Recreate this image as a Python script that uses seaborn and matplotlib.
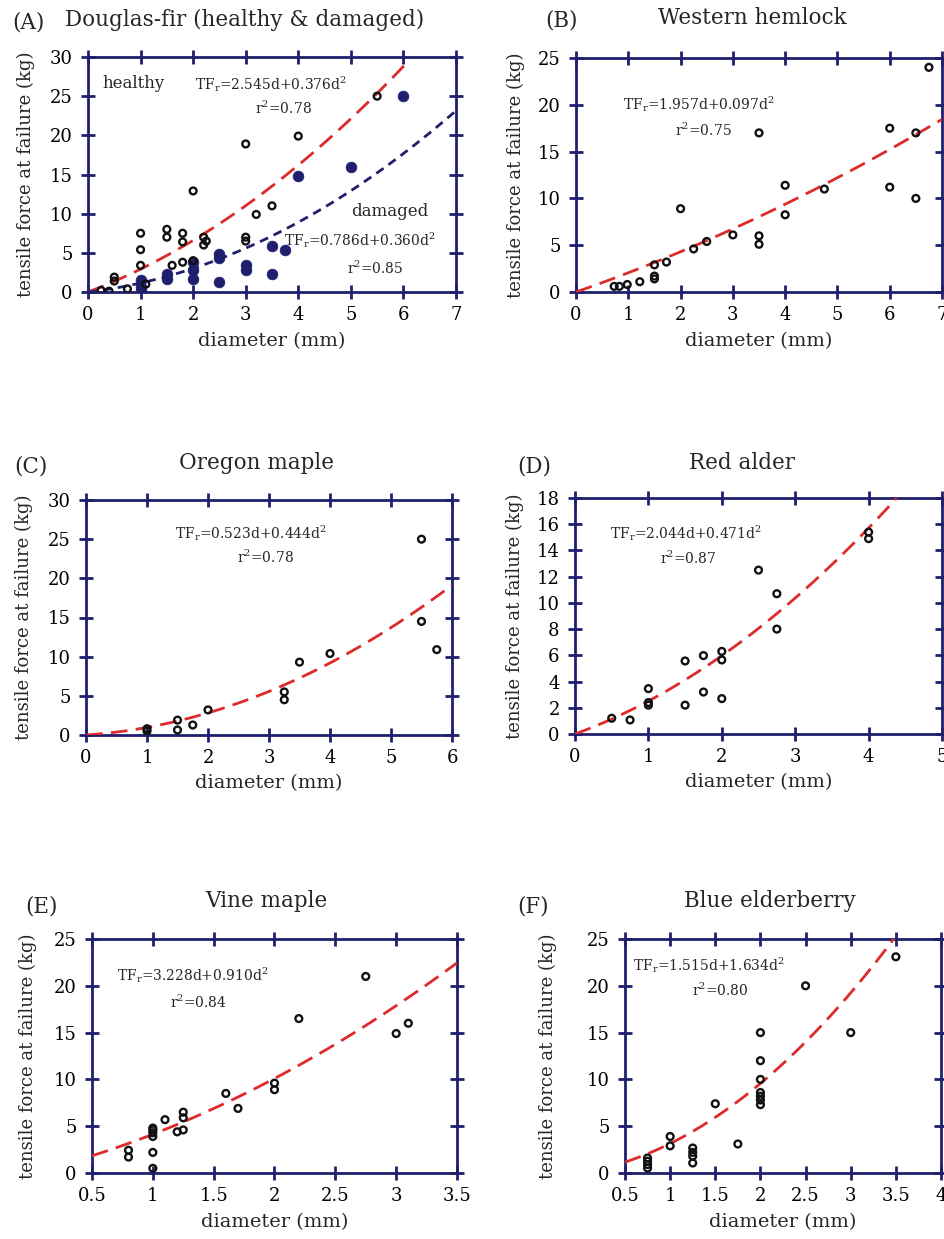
import numpy as np
import pandas as pd
import matplotlib
matplotlib.use("Agg")
import matplotlib.pyplot as plt
import seaborn as sns

sns.set_style("ticks")
plt.rcParams['font.family'] = ['DejaVu Serif']
plt.rcParams['mathtext.fontset'] = 'dejavuserif'

# ---------------- data ----------------
# (A) Douglas-fir
a_healthy_x = [0.25, 0.4, 0.5, 0.5, 0.75, 1.0, 1.0, 1.0, 1.1, 1.5, 1.5, 1.6, 1.8, 1.8, 1.8, 2.0, 2.0, 2.2, 2.2, 2.25, 3.0, 3.0, 3.0, 3.2, 3.5, 4.0, 5.5]
a_healthy_y = [0.2, 0.1, 1.9, 1.4, 0.4, 7.5, 5.4, 3.4, 1.0, 8.0, 7.0, 3.4, 7.5, 6.4, 3.8, 12.9, 4.0, 7.0, 6.0, 6.5, 7.0, 6.5, 18.9, 9.9, 11.0, 19.9, 25.0]
a_damaged_x = [1.0, 1.0, 1.0, 1.5, 1.5, 2.0, 2.0, 2.0, 2.5, 2.5, 2.5, 3.0, 3.0, 3.5, 3.5, 3.75, 4.0, 5.0, 6.0]
a_damaged_y = [1.5, 0.6, 0.1, 2.3, 1.6, 3.8, 2.8, 1.6, 4.9, 4.3, 1.3, 3.4, 2.8, 5.9, 2.3, 5.4, 14.8, 15.9, 25.0]
# (B) Western hemlock
b_x = [0.73, 0.83, 0.98, 1.22, 1.5, 1.5, 1.5, 1.73, 2.0, 2.25, 2.5, 3.0, 3.5, 3.5, 3.5, 4.0, 4.0, 4.75, 6.0, 6.0, 6.5, 6.5, 6.75]
b_y = [0.6, 0.6, 0.8, 1.1, 2.9, 1.7, 1.4, 3.2, 8.9, 4.6, 5.4, 6.1, 17.0, 6.0, 5.1, 11.4, 8.25, 11.0, 17.5, 11.2, 17.0, 10.0, 24.0]
# (C) Oregon maple
c_x = [1.0, 1.0, 1.5, 1.5, 1.75, 2.0, 3.25, 3.25, 3.5, 4.0, 5.5, 5.5, 5.75]
c_y = [0.8, 0.5, 1.9, 0.64, 1.28, 3.2, 5.5, 4.5, 9.3, 10.4, 25.0, 14.5, 10.9]
# (D) Red alder
d_x = [0.5, 0.75, 1.0, 1.0, 1.0, 1.5, 1.5, 1.75, 1.75, 2.0, 2.0, 2.0, 2.5, 2.75, 2.75, 4.0, 4.0]
d_y = [1.2, 1.07, 3.46, 2.4, 2.2, 5.57, 2.2, 5.98, 3.2, 6.3, 5.65, 2.7, 12.5, 10.7, 8.0, 15.4, 14.9]
# (E) Vine maple
e_x = [0.8, 0.8, 1.0, 1.0, 1.0, 1.0, 1.0, 1.0, 1.1, 1.2, 1.25, 1.25, 1.25, 1.6, 1.7, 2.0, 2.0, 2.2, 2.75, 3.0, 3.1]
e_y = [2.43, 1.7, 4.8, 4.6, 4.3, 3.9, 2.2, 0.5, 5.7, 4.4, 6.5, 5.9, 4.6, 8.5, 6.9, 9.6, 8.9, 16.5, 21.0, 14.9, 16.0]
# (F) Blue elderberry
f_x = [0.75, 0.75, 0.75, 0.75, 1.0, 1.0, 1.25, 1.25, 1.25, 1.25, 1.5, 1.75, 2.0, 2.0, 2.0, 2.0, 2.0, 2.0, 2.0, 2.5, 3.0, 3.5]
f_y = [1.6, 1.25, 0.9, 0.53, 3.9, 2.9, 2.67, 2.2, 1.8, 1.07, 7.4, 3.1, 15.0, 12.0, 10.0, 8.6, 8.2, 7.8, 7.3, 20.0, 15.0, 23.1]

# fitted coefficients (TF_r = b1*d + b2*d^2) and fitted-line extents
fit_a_healthy = [2.545, 0.376]
fit_a_damaged = [0.786, 0.360]
fit_b = [1.957, 0.097]
fit_c = [0.523, 0.444]
fit_d = [2.044, 0.471]
fit_e = [3.228, 0.910]
fit_f = [1.515, 1.634]
range_a_healthy = [0.0, 6.1]
range_a_damaged = [0.0, 7.0]
range_b = [0.0, 7.0]
range_c = [0.0, 6.0]
range_d = [0.0, 4.38]
range_e = [0.5, 3.5]
range_f = [0.5, 3.5]

titles = ["Douglas-fir (healthy & damaged)", "Western hemlock", "Oregon maple",
          "Red alder", "Vine maple", "Blue elderberry"]
letters = ["(A)", "(B)", "(C)", "(D)", "(E)", "(F)"]
r2 = ["0.78", "0.75", "0.78", "0.87", "0.84", "0.80"]

# ---------------- layout ----------------
W, H = 945, 1239
fig = plt.figure(figsize=(W / 100, H / 100), dpi=100)

def add_axes(l, r, t, b):
    return fig.add_axes([l / W, 1 - b / H, (r - l) / W, (b - t) / H])

def fx(px):
    return px / W

def fy(py):
    return 1 - py / H

NAVY = '#1f1f6e'
RED = '#dd2a2a'
BLACK = '#111111'

def style(ax, xlim, ylim, xticks, yticks, xlabels=None):
    ax.set_xlim(*xlim)
    ax.set_ylim(*ylim)
    ax.set_xticks(xticks)
    ax.set_yticks(yticks)
    if xlabels is not None:
        ax.set_xticklabels(xlabels)
    for s in ax.spines.values():
        s.set_visible(True)
        s.set_color(NAVY)
        s.set_linewidth(2.0)
    ax.tick_params(which='both', direction='inout', length=10, width=2.0, color=NAVY,
                   top=True, right=True, labelsize=13, labelcolor='black')
    ax.tick_params(axis='x', pad=5)
    ax.tick_params(axis='y', pad=6)
    ax.set_xlabel("diameter (mm)", fontsize=14)
    ax.set_ylabel("tensile force at failure (kg)", fontsize=13)
    ax.xaxis.label.set_va('center')
    ax.yaxis.label.set_va('center')

def fitline(ax, coef, rng, color, dashes, lw=2.0):
    d = np.linspace(rng[0], rng[1], 120)
    y = coef[0] * d + coef[1] * d ** 2
    df = pd.DataFrame({"d": d, "y": y})
    sns.lineplot(data=df, x="d", y="y", ax=ax, color=color, lw=lw, linestyle=(0, dashes), zorder=3)

def points(ax, x, y, filled=False):
    df = pd.DataFrame({"x": x, "y": y})
    if filled:
        sns.scatterplot(data=df, x="x", y="y", ax=ax, marker='o', s=60, color=NAVY,
                        edgecolor=NAVY, linewidth=0.5, zorder=4)
    else:
        sns.scatterplot(data=df, x="x", y="y", ax=ax, marker='o', s=24, facecolor='none',
                        edgecolor=BLACK, linewidth=1.7, zorder=5)

def eq_text(coef, r):
    return (r"TF$_\mathregular{r}$=%.3fd+%.3fd$^\mathregular{2}$" % (coef[0], coef[1]),
            r"r$^\mathregular{2}$=" + r)

# axes geometry (pixels): left, right, top, bottom
geo = [(88, 456, 57, 292), (576, 942, 58, 292), (86, 452, 500, 735),
       (575, 942, 498, 734), (92, 457, 939, 1173), (625, 941, 939, 1173)]
axes = [add_axes(*g) for g in geo]

# ----- A -----
ax = axes[0]
points(ax, a_healthy_x, a_healthy_y)
points(ax, a_damaged_x, a_damaged_y, filled=True)
fitline(ax, fit_a_healthy, range_a_healthy, RED, (6, 3), lw=2.0)
fitline(ax, fit_a_damaged, range_a_damaged, NAVY, (3.2, 2.2), lw=2.0)
style(ax, (0, 7), (0, 30), range(0, 8), range(0, 31, 5))

# ----- B -----
ax = axes[1]
points(ax, b_x, b_y)
fitline(ax, fit_b, range_b, RED, (6, 3))
style(ax, (0, 7), (0, 25), range(0, 8), range(0, 26, 5))

# ----- C -----
ax = axes[2]
points(ax, c_x, c_y)
fitline(ax, fit_c, range_c, RED, (6, 3))
style(ax, (0, 6), (0, 30), range(0, 7), range(0, 31, 5))

# ----- D -----
ax = axes[3]
points(ax, d_x, d_y)
fitline(ax, fit_d, range_d, RED, (6, 3))
style(ax, (0, 5), (0, 18), range(0, 6), range(0, 19, 2))

# ----- E -----
ax = axes[4]
points(ax, e_x, e_y)
fitline(ax, fit_e, range_e, RED, (6, 3))
e_ticks = [0.5, 1, 1.5, 2, 2.5, 3, 3.5]
style(ax, (0.5, 3.5), (0, 25), e_ticks, range(0, 26, 5), ["0.5", "1", "1.5", "2", "2.5", "3", "3.5"])

# ----- F -----
ax = axes[5]
points(ax, f_x, f_y)
fitline(ax, fit_f, range_f, RED, (6, 3))
f_ticks = [0.5, 1, 1.5, 2, 2.5, 3, 3.5, 4]
style(ax, (0.5, 4), (0, 25), f_ticks, range(0, 26, 5), ["0.5", "1", "1.5", "2", "2.5", "3", "3.5", "4"])

# label positions (pixels): ylabel x, xlabel y
ylab_x = [26, 516, 24, 515, 28, 548]
xlab_y = [341, 341, 783, 782, 1222, 1222]
for ax, g, yx, xy in zip(axes, geo, ylab_x, xlab_y):
    l, r, t, b = g
    ax.yaxis.set_label_coords((yx - l) / (r - l), 0.5)
    ax.xaxis.set_label_coords(0.5, (b - xy) / (b - t))

# titles
letter_pos = [(12, 22), (545, 20), (14, 467), (517, 467), (25, 907), (517, 907)]
title_pos = [(245, 20), (752, 18), (257, 463), (742, 463), (266, 901), (770, 901)]
for lt, lp, tt, tp in zip(letters, letter_pos, titles, title_pos):
    fig.text(fx(lp[0]), fy(lp[1]), lt, fontsize=15.5, ha='left', va='center')
    fig.text(fx(tp[0]), fy(tp[1]), tt, fontsize=15.5, ha='center', va='center')

# equation annotations
eq_coefs = [fit_a_healthy, fit_b, fit_c, fit_d, fit_e, fit_f]
eq_pos = [(195, 84), (623, 104), (175, 533), (610, 533), (117, 975), (633, 965)]
r2_pos = [(283, 108), (703, 130), (265, 557), (688, 558), (198, 1002), (720, 990)]
for c, r, ep, rp in zip(eq_coefs, r2, eq_pos, r2_pos):
    t1, t2 = eq_text(c, r)
    fig.text(fx(ep[0]), fy(ep[1]), t1, fontsize=10, ha='left', va='center')
    fig.text(fx(rp[0]), fy(rp[1]), t2, fontsize=10, ha='center', va='center')

# damaged annotation in A
t1, t2 = eq_text(fit_a_damaged, "0.85")
fig.text(fx(284), fy(240), t1, fontsize=10, ha='left', va='center')
fig.text(fx(375), fy(268), t2, fontsize=10, ha='center', va='center')
fig.text(fx(102), fy(83), "healthy", fontsize=12, ha='left', va='center')
fig.text(fx(351), fy(212), "damaged", fontsize=12, ha='left', va='center')

fig.savefig("out.png", dpi=100)
